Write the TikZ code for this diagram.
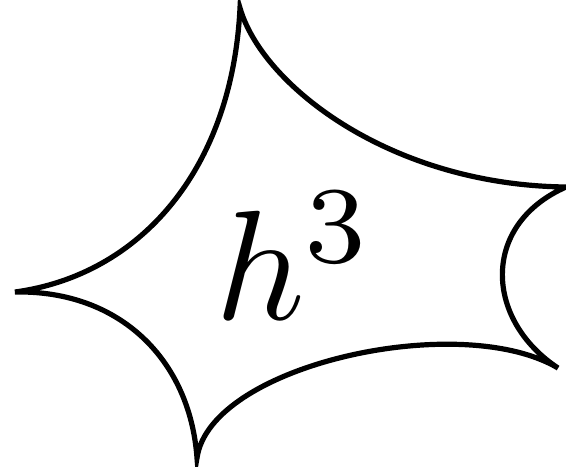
\documentclass[tikz,border=0pt]{standalone}
\begin{document}
\begin{tikzpicture}[x=0.5pt,y=-0.5pt,outline/.style={line width=2.6pt,line join=miter}]
\useasboundingbox (0,0) rectangle (566,466);
\coordinate (t) at (240,8);
\coordinate (rt) at (566,187);
\coordinate (rb) at (558,368);
\coordinate (b) at (197,458);
\coordinate (l) at (15,292);
\draw[outline] (t) .. controls (262,85) and (390,185) .. (rt)
  .. controls (480,225) and (485,320) .. (rb)
  .. controls (460,310) and (210,365) .. (b)
  .. controls (190,360) and (120,290) .. (l)
  .. controls (140,275) and (232,170) .. (t) -- cycle;
\node[scale=7.8] (lab) at (295,256) {$h^3$};
\end{tikzpicture}
\end{document}
